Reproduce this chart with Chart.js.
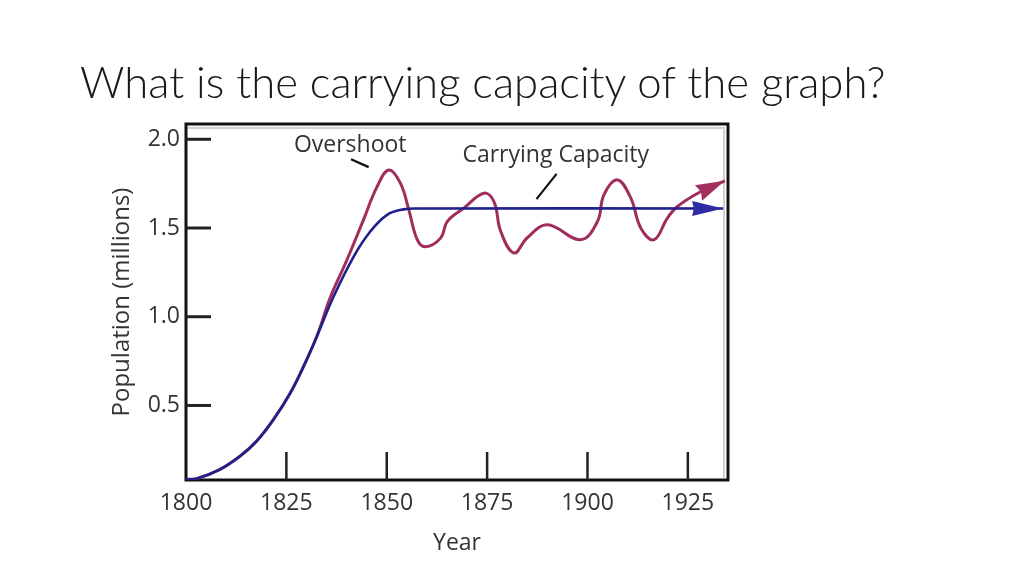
<!DOCTYPE html>
<html><head><meta charset="utf-8">
<script src="https://cdn.jsdelivr.net/npm/chart.js@4.4.1/dist/chart.umd.min.js"></script>
<style>
html,body{margin:0;padding:0;background:#fff;}
#wrap{position:relative;width:1024px;height:576px;overflow:hidden;}
#title{position:absolute;left:80px;top:55px;font-family:Lato,'Open Sans',sans-serif;font-weight:300;font-size:43.7px;line-height:52px;color:#1a1a1a;white-space:nowrap;}
canvas{position:absolute;left:0;top:0;}
</style></head><body>
<div id="wrap"><canvas id="c" width="1024" height="576"></canvas><div id="title">What is the carrying capacity of the graph?</div></div>
<script>
// ---- data ----
const xTickValues = [1800, 1825, 1850, 1875, 1900, 1925];
const yTickValues = [0.5, 1.0, 1.5, 2.0];

const overshootYears = [1800, 1802.7, 1808.5, 1813.5, 1817.6, 1821.8, 1826.0, 1829.3, 1832.6, 1835.9,
  1840.1, 1844.2, 1847.6, 1850.5, 1853.4, 1855.5, 1857.6, 1859.6, 1863.4, 1865.1, 1869.2, 1874.2,
  1876.7, 1878.4, 1881.7, 1885.0, 1890.0, 1898.3, 1902.5, 1904.1, 1907.5, 1910.8, 1913.3, 1916.6,
  1919.9, 1922.4, 1927.5, 1934.2];
const overshootValues = [0.084, 0.088, 0.140, 0.215, 0.299, 0.421, 0.571, 0.721, 0.890, 1.107,
  1.321, 1.546, 1.733, 1.827, 1.753, 1.602, 1.434, 1.394, 1.443, 1.537, 1.612, 1.696,
  1.649, 1.480, 1.359, 1.445, 1.518, 1.434, 1.537, 1.687, 1.771, 1.668, 1.499, 1.434,
  1.556, 1.621, 1.696, 1.766];

const capacityYears = [1800, 1802.7, 1808.5, 1813.5, 1817.6, 1821.8, 1826.0, 1829.3, 1832.6, 1836.8,
  1841.8, 1845.9, 1850.1, 1854.2, 1858.0, 1933.8];
const capacityValues = [0.084, 0.088, 0.140, 0.215, 0.299, 0.421, 0.571, 0.721, 0.890, 1.115,
  1.340, 1.480, 1.574, 1.605, 1.610, 1.610];

const overshootLabel = {text: 'Overshoot', x: 1840.9, y: 1.967, line: [1841.1, 1.888, 1845.5, 1.843]};
const capacityLabel = {text: 'Carrying Capacity', x: 1892.1, y: 1.911, line: [1887.3, 1.663, 1892.3, 1.805]};

// ---- styles ----
const RED = '#a12d5e';
const BLUE = '#1f1f8e';
const TEXT = '#333333';
const FONT = "'Open Sans', 'Noto Sans', sans-serif";

const toXY = (xs, ys) => xs.map((x, i) => ({x: x, y: ys[i]}));

const framePlugin = {
  id: 'frame',
  beforeDatasetsDraw(chart) {
    const {ctx, chartArea: a, scales: {x, y}} = chart;
    ctx.save();
    ctx.strokeStyle = '#d0d0d0';
    ctx.lineWidth = 2;
    ctx.beginPath();
    ctx.moveTo(a.left + 2, a.top + 4); ctx.lineTo(a.right - 4, a.top + 4); ctx.lineTo(a.right - 4, a.bottom - 2);
    ctx.stroke();
    ctx.strokeStyle = '#111';
    ctx.lineWidth = 3;
    ctx.strokeRect(a.left, a.top, a.right - a.left, a.bottom - a.top);
    ctx.strokeStyle = '#222';
    ctx.lineWidth = 3;
    y.ticks.forEach(t => {
      const py = y.getPixelForValue(t.value);
      ctx.beginPath(); ctx.moveTo(a.left, py); ctx.lineTo(a.left + 25, py); ctx.stroke();
    });
    ctx.lineWidth = 2.5;
    x.ticks.forEach(t => {
      if (t.value === x.min) return;
      const px = x.getPixelForValue(t.value);
      ctx.beginPath(); ctx.moveTo(px, a.bottom); ctx.lineTo(px, a.bottom - 28); ctx.stroke();
    });
    ctx.restore();
  },
  afterDatasetsDraw(chart) {
    const {ctx, scales: {x, y}} = chart;
    ctx.save();
    chart.data.datasets.forEach((ds, i) => {
      const pts = chart.getDatasetMeta(i).data;
      const p1 = pts[pts.length - 1], p0 = pts[pts.length - 2];
      const ang = Math.atan2(p1.y - p0.y, p1.x - p0.x);
      const L = ds.arrowLength, W = ds.arrowWidth;
      ctx.save();
      ctx.translate(p1.x, p1.y);
      ctx.rotate(ang);
      ctx.fillStyle = ds.arrowColor;
      ctx.beginPath();
      ctx.moveTo(0, 0); ctx.lineTo(-L, -W / 2); ctx.lineTo(-L * ds.arrowNotch, 0); ctx.lineTo(-L, W / 2); ctx.closePath();
      ctx.fill();
      ctx.restore();
    });
    ctx.fillStyle = TEXT;
    ctx.font = "23px " + FONT;
    ctx.textAlign = 'center';
    ctx.textBaseline = 'middle';
    [overshootLabel, capacityLabel].forEach(l => {
      ctx.fillText(l.text, x.getPixelForValue(l.x), y.getPixelForValue(l.y));
      ctx.strokeStyle = '#111';
      ctx.lineWidth = 2.2;
      ctx.beginPath();
      ctx.moveTo(x.getPixelForValue(l.line[0]), y.getPixelForValue(l.line[1]));
      ctx.lineTo(x.getPixelForValue(l.line[2]), y.getPixelForValue(l.line[3]));
      ctx.stroke();
    });
    ctx.restore();
  }
};

new Chart(document.getElementById('c'), {
  type: 'line',
  data: {
    datasets: [
      {label: 'Carrying Capacity', data: toXY(capacityYears, capacityValues), borderColor: BLUE, borderWidth: 2.6,
       pointRadius: 0, tension: 0.4, fill: false,
       arrowColor: '#2e2ea2', arrowLength: 31, arrowWidth: 15, arrowNotch: 0.95},
      {label: 'Overshoot', data: toXY(overshootYears, overshootValues), borderColor: RED, borderWidth: 3,
       pointRadius: 0, tension: 0.4, fill: false,
       arrowColor: '#a3305f', arrowLength: 29, arrowWidth: 17, arrowNotch: 0.9}
    ]
  },
  options: {
    responsive: false, animation: false, devicePixelRatio: 1,
    layout: {padding: {top: 124, right: 296, left: 0, bottom: 0}},
    plugins: {legend: {display: false}, tooltip: {enabled: false}, title: {display: false}},
    scales: {
      x: {
        type: 'linear', min: 1800, max: 1935, position: 'bottom',
        afterBuildTicks: s => { s.ticks = xTickValues.map(v => ({value: v})); },
        afterFit: s => { s.height = 96; },
        grid: {display: false, drawTicks: false}, border: {display: false},
        ticks: {padding: 10, color: TEXT, font: {family: FONT, size: 23}, maxRotation: 0, autoSkip: false,
                callback: v => String(v)},
        title: {display: true, text: 'Year', color: TEXT, font: {family: FONT, size: 23}, padding: {top: 0, bottom: 19}}
      },
      y: {
        type: 'linear', min: 0.08, max: 2.086,
        afterBuildTicks: s => { s.ticks = yTickValues.map(v => ({value: v})); },
        afterFit: s => { s.width = 186; },
        grid: {display: false, drawTicks: false}, border: {display: false},
        ticks: {padding: 6, color: TEXT, font: {family: FONT, size: 23}, callback: v => Number(v).toFixed(1)},
        title: {display: true, text: 'Population (millions)', color: TEXT, font: {family: FONT, size: 24}, padding: {top: 107.6, bottom: 0}}
      }
    }
  },
  plugins: [framePlugin]
});
</script></body></html>
